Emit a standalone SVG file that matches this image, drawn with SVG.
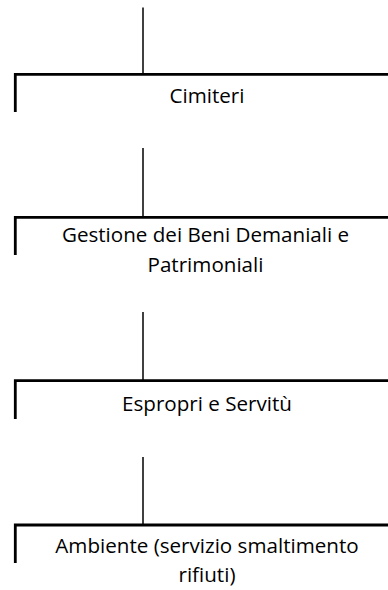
<svg xmlns="http://www.w3.org/2000/svg" width="388" height="590" viewBox="0 0 388 590">
<style>
.conn{stroke:#000;stroke-width:1.5;fill:none}
.box{stroke:#000;stroke-width:2.8;fill:none;stroke-linecap:butt}
.lbl{font-family:"Open Sans","Liberation Sans",sans-serif;font-size:20.6px;fill:#000;text-anchor:middle}
</style>
<rect width="388" height="590" fill="#fff"/>
<g id="connectors">
<line class="conn" x1="143" y1="7.5" x2="143" y2="73.5"/>
<line class="conn" x1="143" y1="148" x2="143" y2="216.5"/>
<line class="conn" x1="143" y1="312" x2="143" y2="380"/>
<line class="conn" x1="143" y1="457" x2="143" y2="524"/>
</g>
<g id="node-cimiteri">
<path class="box" d="M15.3,112 V74.3 H400"/>
<text class="lbl" x="207" y="102.7">Cimiteri</text>
</g>
<g id="node-gestione">
<path class="box" d="M15.3,255 V217.3 H400"/>
<text class="lbl" x="205.5" y="241.7">Gestione dei Beni Demaniali e</text>
<text class="lbl" x="205.5" y="271.7">Patrimoniali</text>
</g>
<g id="node-espropri">
<path class="box" d="M15.3,419 V380.7 H400"/>
<text class="lbl" x="207" y="410.7">Espropri e Servitù</text>
</g>
<g id="node-ambiente">
<path class="box" d="M15.3,563 V525 H400"/>
<text class="lbl" x="207" y="552.7">Ambiente (servizio smaltimento</text>
<text class="lbl" x="207" y="582">rifiuti)</text>
</g>
</svg>
